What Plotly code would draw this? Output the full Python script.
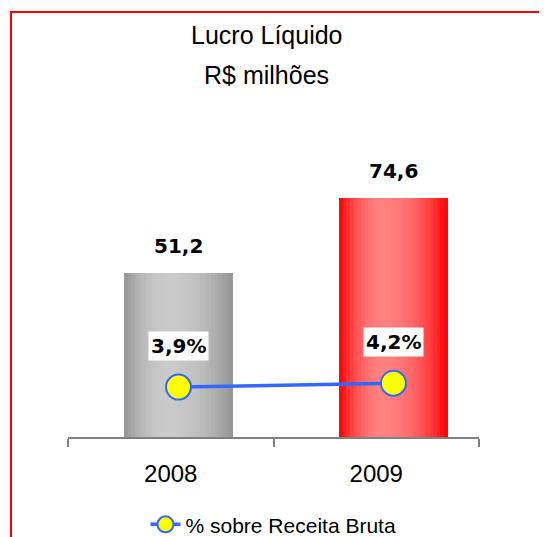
import plotly.graph_objects as go

# data
years = ["2008", "2009"]
lucro = [51.2, 74.6]
pct_receita = [3.9, 4.2]

SANS = "Liberation Sans, Arial, sans-serif"
BOLD = "DejaVu Sans, Verdana, sans-serif"
BLUE = "#3366FF"


def fmt(v, suffix=""):
    return f"{v:.1f}".replace(".", ",") + suffix


def shade(edge, peak, t, p=0.4):
    # horizontal "cylinder" gradient, brightest a bit left of centre
    d = (t - p) / (p if t < p else 1 - p)
    f = max(0.0, 1 - d * d)
    return "rgb(%d,%d,%d)" % tuple(round(e + (k - e) * f) for e, k in zip(edge, peak))


fig = go.Figure()

# dummy trace so the visible category axis gets its labels
fig.add_trace(go.Scatter(x=years, y=[0, 0], mode="markers", opacity=0,
                         showlegend=False, hoverinfo="skip"))

# bars drawn as thin strips to fake the gradient fill
n_strips = 30
bar_w = 0.505
strip_w = bar_w / n_strips
gray_edge, gray_peak = (148, 148, 148), (202, 202, 202)
red_edge, red_peak = (255, 0, 0), (255, 128, 128)
for i in range(n_strips):
    t = (i + 0.5) / n_strips
    fig.add_trace(go.Bar(
        x=years, y=lucro,
        xaxis="x2", yaxis="y",
        width=strip_w * 1.15,
        offset=-bar_w / 2 + i * strip_w,
        marker=dict(color=[shade(gray_edge, gray_peak, t), shade(red_edge, red_peak, t)],
                    line=dict(width=0)),
        showlegend=False, hoverinfo="skip",
    ))

fig.add_trace(go.Scatter(
    x=years, y=pct_receita,
    xaxis="x2", yaxis="y2",
    mode="lines+markers",
    name="% sobre Receita Bruta",
    line=dict(color=BLUE, width=3.5),
    marker=dict(size=25, color="#FFFF00", line=dict(color=BLUE, width=2)),
))

annotations = []
# category axes want the serial index for annotations
for i, v in enumerate(lucro):
    annotations.append(dict(x=i, y=v, xref="x2", yref="y", text=f"<b>{fmt(v)}</b>",
                            showarrow=False, yanchor="middle", yshift=27,
                            font=dict(size=20, color="black", family=BOLD)))
for i, v in enumerate(pct_receita):
    annotations.append(dict(x=i, y=v, xref="x2", yref="y2", text=f"<b>{fmt(v, '%')}</b>",
                            showarrow=False, yanchor="middle", yshift=41,
                            bgcolor="white", borderpad=2,
                            font=dict(size=20, color="black", family=BOLD)))
annotations.append(dict(x=0.484, y=1.256, xref="paper", yref="paper", text="Lucro Líquido",
                        showarrow=False, yanchor="middle",
                        font=dict(size=25, color="black", family=SANS)))
annotations.append(dict(x=0.484, y=1.131, xref="paper", yref="paper", text="R$ milhões",
                        showarrow=False, yanchor="middle",
                        font=dict(size=25, color="black", family=SANS)))

fig.update_layout(
    width=547, height=560,
    # page body has an 8px margin, so everything is nudged up/left by 8px;
    # the figure runs past the window bottom so the legend can sit low
    margin=dict(l=60, r=76, t=109, b=131),
    barmode="overlay",
    bargap=0,
    plot_bgcolor="white",
    paper_bgcolor="white",
    font=dict(family=SANS, color="black"),
    annotations=annotations,
    shapes=[dict(type="rect", xref="paper", yref="paper",
                 x0=-0.1387, x1=1.3, y0=-0.5, y1=1.328,
                 line=dict(color="#FF0000", width=2), layer="below")],
    legend=dict(orientation="h", x=0.5, xanchor="center", y=-0.274, yanchor="middle",
                font=dict(size=21, family=SANS), bgcolor="rgba(0,0,0,0)"),
    xaxis=dict(type="category", range=[-0.5, 1.5], showline=True, linecolor="#808080",
               linewidth=1.5, ticks="outside", tickson="boundaries", ticklen=8,
               tickcolor="#808080", tickwidth=1.5, showgrid=False, zeroline=False,
               tickfont=dict(size=24, family=SANS, color="black"), ticklabelstandoff=14),
    xaxis2=dict(type="category", overlaying="x", range=[-0.514, 1.398], visible=False),
    yaxis=dict(range=[0, 100], visible=False),
    yaxis2=dict(range=[0, 25], overlaying="y", visible=False),
)

fig.write_html("out.html")
